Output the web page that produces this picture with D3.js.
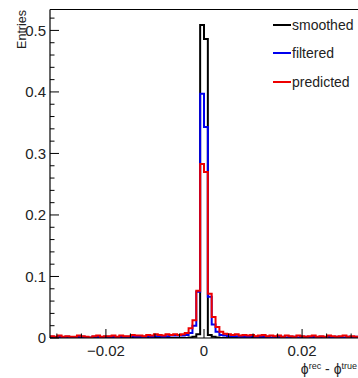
<!DOCTYPE html>
<html>
<head>
<meta charset="utf-8">
<script src="https://cdn.jsdelivr.net/npm/d3@7"></script>
<style>
  body { margin: 0; background: #fff; }
  svg { display: block; font-family: "Liberation Sans", Arial, sans-serif; }
</style>
</head>
<body>
<div id="canvas"></div>
<script>
const W = 358, H = 378;
const X_MIN = -0.0314, X_MAX = 0.0314, NBINS = 80;

const seriesNames = ["smoothed", "filtered", "predicted"];
const seriesColors = ["#000000", "#0000ee", "#ee0000"];

// bin contents, 80 bins from -0.0314 to 0.0314
const smoothed = [
  0,0,0,0,0,0,0,0,0,0,
  0,0,0,0,0,0,0,0,0,0,
  0,0,0,0,0,0,0,0,0,0,
  0,0,0,0,0,0,0.001,0.002,0.006,0.509,
  0.486,0.005,0.002,0.001,0,0,0,0,0,0,
  0,0,0,0,0,0,0,0,0,0,
  0,0,0,0,0,0,0,0,0,0,
  0,0,0,0,0,0,0,0,0,0
];
const filtered = [
  0.002,0.001,0.002,0.001,0.002,0.001,0.001,0.002,0.002,0.001,
  0.001,0.002,0.002,0.001,0.002,0.002,0.002,0.001,0.002,0.002,
  0.002,0.003,0.002,0.002,0.002,0.003,0.002,0.003,0.003,0.002,
  0.003,0.004,0.004,0.004,0.004,0.005,0.008,0.020,0.075,0.397,
  0.343,0.067,0.022,0.010,0.005,0.004,0.003,0.003,0.003,0.002,
  0.002,0.002,0.003,0.002,0.002,0.002,0.002,0.001,0.002,0.002,
  0.002,0.001,0.002,0.002,0.001,0.002,0.002,0.001,0.002,0.001,
  0.002,0.001,0.002,0.001,0.002,0.001,0.001,0.002,0.001,0.002
];
const predicted = [
  0.003,0.002,0.004,0.002,0.003,0.002,0.002,0.004,0.003,0.002,
  0.001,0.003,0.004,0.002,0.003,0.003,0.004,0.002,0.004,0.003,
  0.003,0.005,0.004,0.004,0.003,0.005,0.004,0.006,0.005,0.004,
  0.006,0.005,0.006,0.005,0.006,0.008,0.016,0.029,0.077,0.283,
  0.270,0.072,0.034,0.018,0.010,0.007,0.006,0.005,0.006,0.004,
  0.005,0.004,0.005,0.003,0.004,0.005,0.003,0.004,0.003,0.004,
  0.002,0.004,0.003,0.002,0.004,0.003,0.002,0.003,0.004,0.002,
  0.003,0.002,0.004,0.003,0.002,0.003,0.004,0.002,0.003,0.002
];
const xTicks = [-0.02, 0, 0.02];
const yTicks = [0, 0.1, 0.2, 0.3, 0.4, 0.5];

const margin = {left: 50, top: 9.5, right: 0, bottom: 40};
const x = d3.scaleLinear().domain([X_MIN, X_MAX]).range([margin.left, W - margin.right]);
const y = d3.scaleLinear().domain([0, 0.534]).range([338, margin.top]);

const svg = d3.select("#canvas").append("svg").attr("width", W).attr("height", H);

svg.append("clipPath").attr("id", "clip")
  .append("rect")
  .attr("x", margin.left).attr("y", margin.top)
  .attr("width", W - margin.left).attr("height", 338 - margin.top);

const bw = (X_MAX - X_MIN) / NBINS;
const stepLine = d3.line().x(d => x(d[0])).y(d => y(d[1]));
function histPoints(vals) {
  const pts = [];
  vals.forEach((v, i) => {
    pts.push([X_MIN + i * bw, v]);
    pts.push([X_MIN + (i + 1) * bw, v]);
  });
  return pts;
}

const g = svg.append("g").attr("clip-path", "url(#clip)");
[smoothed, filtered, predicted].forEach((vals, k) => {
  g.append("path")
    .attr("d", stepLine(histPoints(vals)))
    .attr("fill", "none")
    .attr("stroke", seriesColors[k])
    .attr("stroke-width", 2);
});

// frame
svg.append("line").attr("x1", margin.left).attr("x2", W).attr("y1", margin.top).attr("y2", margin.top)
  .attr("stroke", "#000").attr("stroke-width", 1);

// y axis (ticks inside)
const yMinor = d3.range(0, 0.5341, 0.02);
svg.append("g").selectAll("line").data(yMinor).join("line")
  .attr("x1", margin.left).attr("y1", d => y(d)).attr("y2", d => y(d))
  .attr("x2", d => margin.left + (Math.abs(d * 10 - Math.round(d * 10)) < 1e-6 ? 9 : 4.5))
  .attr("stroke", "#000");
svg.append("line").attr("x1", margin.left).attr("x2", margin.left).attr("y1", margin.top).attr("y2", 338)
  .attr("stroke", "#000").attr("stroke-width", 1.2);
svg.append("g").selectAll("text").data(yTicks).join("text")
  .attr("x", margin.left - 4).attr("y", d => y(d)).attr("dy", "0.36em")
  .attr("text-anchor", "end").attr("font-size", 15).attr("fill", "#222")
  .text(d => d === 0 ? "0" : d3.format(".1f")(d));

// x axis (ticks inside)
const xMinor = d3.range(-0.03, 0.0315, 0.005);
svg.append("g").selectAll("line").data(xMinor).join("line")
  .attr("x1", d => x(d)).attr("x2", d => x(d)).attr("y1", 338)
  .attr("y2", d => 338 - (Math.abs(d / 0.02 - Math.round(d / 0.02)) < 1e-6 ? 9 : 4.5))
  .attr("stroke", "#000");
svg.append("line").attr("x1", margin.left).attr("x2", W).attr("y1", 338).attr("y2", 338)
  .attr("stroke", "#000").attr("stroke-width", 1.2);
svg.append("g").selectAll("text").data(xTicks).join("text")
  .attr("x", d => x(d)).attr("y", 356)
  .attr("text-anchor", "middle").attr("font-size", 15).attr("fill", "#222")
  .text(d => d === 0 ? "0" : d3.format(".2f")(d).replace("-", "\u2212"));

// axis titles
svg.append("text")
  .attr("transform", "translate(26,10) rotate(-90)")
  .attr("text-anchor", "end")
  .attr("font-size", 12.5).attr("fill", "#222").text("Entries");
const xt = svg.append("text").attr("x", W - 1).attr("y", 374).attr("text-anchor", "end")
  .attr("font-size", 14).attr("fill", "#222");
xt.append("tspan").text("\u03d5");
xt.append("tspan").attr("dy", -5).attr("font-size", 9).text("rec");
xt.append("tspan").attr("dy", 5).text(" - \u03d5");
xt.append("tspan").attr("dy", -5).attr("font-size", 9).text("true");

// legend
const legendY = [25, 53, 82];
const lg = svg.append("g");
seriesNames.forEach((name, k) => {
  lg.append("line").attr("x1", 273).attr("x2", 291).attr("y1", legendY[k]).attr("y2", legendY[k])
    .attr("stroke", seriesColors[k]).attr("stroke-width", 2);
  lg.append("text").attr("x", 292).attr("y", legendY[k]).attr("dy", "0.35em")
    .attr("font-size", 14).attr("fill", "#222").text(name);
});
</script>
</body>
</html>
